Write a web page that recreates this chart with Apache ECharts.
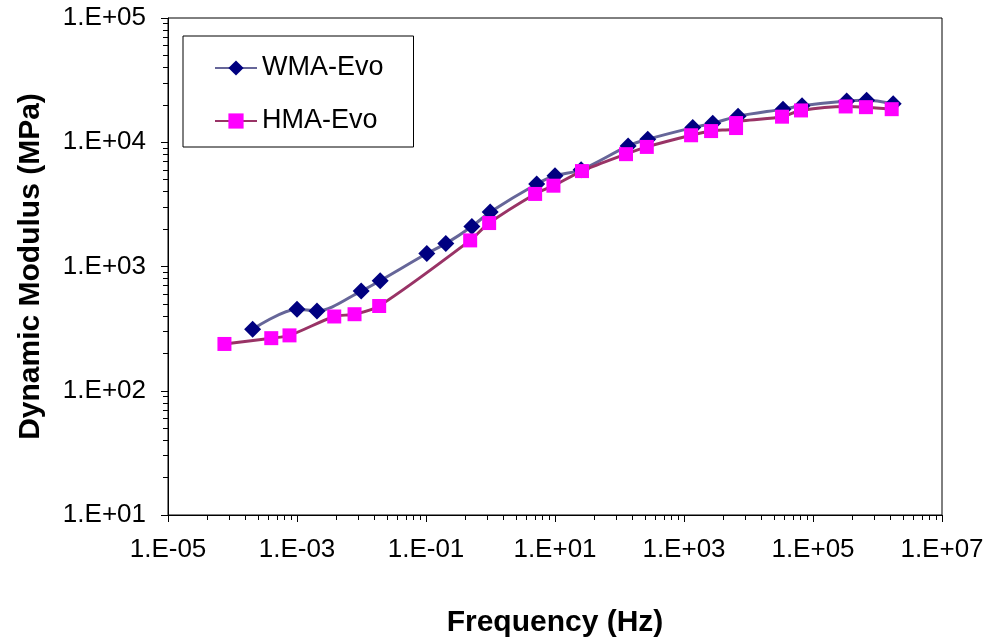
<!DOCTYPE html>
<html><head><meta charset="utf-8">
<script src="https://cdn.jsdelivr.net/npm/echarts@6/dist/echarts.min.js"></script>
<style>html,body{margin:0;padding:0;background:#fff}#c{width:990px;height:643px}</style>
</head><body><div id="c"></div>
<script>
// ---- data ----
const seriesNames = ['WMA-Evo', 'HMA-Evo'];
const wmaFreq = [2.05e-4, 1.0e-3, 2.04e-3, 9.9e-3, 1.95e-2, 0.103, 0.203, 0.514, 0.99, 5.2, 10, 25.4, 136, 274, 1368, 2790, 6890, 34300, 67600, 333000, 679000, 1.75e6];
const wmaModulus = [313, 453, 439, 634, 769, 1271, 1528, 2101, 2740, 4613, 5376, 5995, 9340, 10570, 13120, 14190, 16200, 18470, 19670, 21480, 21760, 20440];
const hmaFreq = [7.5e-5, 3.99e-4, 7.65e-4, 3.78e-3, 7.8e-3, 1.88e-2, 0.484, 0.953, 4.92, 9.46, 26.2, 126, 265, 1288, 2630, 6410, 6410, 33100, 65200, 321000, 662000, 1.66e6];
const hmaModulus = [238, 265, 279, 396, 413, 481, 1622, 2237, 3837, 4470, 5861, 8020, 9170, 11380, 12300, 13010, 14270, 16060, 18030, 19410, 19160, 18460];
const xLabelValues = [1e-5, 1e-3, 1e-1, 1e1, 1e3, 1e5, 1e7];
const yLabelValues = [1e1, 1e2, 1e3, 1e4, 1e5];
const xMinorFactors = [4, 9, 16, 25, 36, 49, 64, 81];
const yMinorFactors = [2, 3, 4, 5, 6, 7, 8, 9];

// ---- derived tick lists ----
const xMinorValues = [];
xLabelValues.slice(0, -1).forEach(b => xMinorFactors.forEach(k => xMinorValues.push(b * k)));
const yMinorValues = [];
yLabelValues.slice(0, -1).forEach(b => yMinorFactors.forEach(k => yMinorValues.push(b * k)));

const FONT = 'Liberation Sans, Arial, sans-serif';
function sci(v) {
  const e = Math.round(Math.log10(v));
  return '1.E' + (e < 0 ? '-' : '+') + String(Math.abs(e)).padStart(2, '0');
}
const black = { color: '#000', width: 1 };

const chart = echarts.init(document.getElementById('c'), null, { renderer: 'canvas' });
chart.setOption({
  animation: false,
  backgroundColor: '#fff',
  grid: { left: 168, right: 48, top: 18, bottom: 125, show: true, borderColor: '#000', borderWidth: 1, backgroundColor: 'transparent', containLabel: false },
  legend: {
    data: seriesNames, orient: 'vertical', left: 183, top: 36,
    padding: [17, 30, 11, 31], itemGap: 23, itemWidth: 42, itemHeight: 19,
    borderColor: '#000', borderWidth: 1, backgroundColor: '#fff',
    textStyle: { fontFamily: FONT, fontSize: 27, color: '#000', lineHeight: 30 }
  },
  xAxis: [
    {
      type: 'log', logBase: 10, min: 1e-5, max: 1e7, position: 'bottom',
      axisLine: { show: true, lineStyle: black },
      axisTick: { show: true, inside: false, length: 7, customValues: xLabelValues, lineStyle: black },
      axisLabel: { customValues: xLabelValues, formatter: sci, fontFamily: FONT, fontSize: 26, color: '#000', margin: 22 },
      splitLine: { show: false }, minorTick: { show: false },
      name: 'Frequency (Hz)', nameLocation: 'middle', nameGap: 93,
      nameTextStyle: { fontFamily: FONT, fontSize: 30, fontWeight: 'bold', color: '#000' }
    },
    {
      type: 'log', logBase: 10, min: 1e-5, max: 1e7, position: 'bottom',
      axisLine: { show: false },
      axisTick: { show: true, inside: false, length: 5, customValues: xMinorValues, lineStyle: black },
      axisLabel: { show: false }, splitLine: { show: false }
    }
  ],
  yAxis: [
    {
      type: 'log', logBase: 10, min: 10, max: 1e5, position: 'left',
      axisLine: { show: true, lineStyle: black },
      axisTick: { show: true, inside: false, length: 7, customValues: yLabelValues, lineStyle: black },
      axisLabel: { customValues: yLabelValues, formatter: sci, fontFamily: FONT, fontSize: 26, color: '#000', margin: 22 },
      splitLine: { show: false }, minorTick: { show: false },
      name: 'Dynamic Modulus (MPa)', nameLocation: 'middle', nameGap: 122,
      nameTextStyle: { fontFamily: FONT, fontSize: 30, fontWeight: 'bold', color: '#000' }
    },
    {
      type: 'log', logBase: 10, min: 10, max: 1e5, position: 'left',
      axisLine: { show: false },
      axisTick: { show: true, inside: false, length: 5, customValues: yMinorValues, lineStyle: black },
      axisLabel: { show: false }, splitLine: { show: false }
    }
  ],
  series: [
    {
      name: seriesNames[0], type: 'line', xAxisIndex: 0, yAxisIndex: 0,
      data: wmaFreq.map((f, i) => [f, wmaModulus[i]]),
      smooth: 0.3, symbol: 'diamond', symbolSize: 17,
      itemStyle: { color: '#000080' },
      lineStyle: { color: '#666699', width: 3 }
    },
    {
      name: seriesNames[1], type: 'line', xAxisIndex: 0, yAxisIndex: 0,
      data: hmaFreq.map((f, i) => [f, hmaModulus[i]]),
      smooth: 0.3, symbol: 'rect', symbolSize: 14,
      itemStyle: { color: '#ff00ff' },
      lineStyle: { color: '#993366', width: 3 }
    }
  ]
});
</script></body></html>
